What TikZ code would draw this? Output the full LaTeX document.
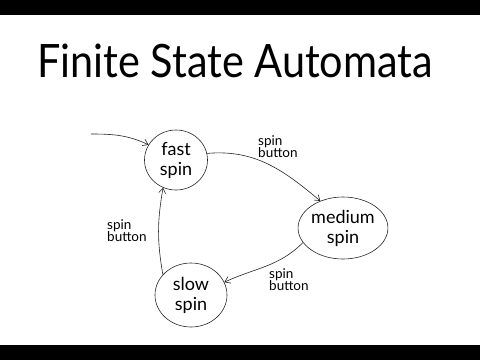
\documentclass[tikz,border=0pt]{standalone}
\usepackage{fontspec}
\setmainfont{Lato}
\usetikzlibrary{arrows.meta,shapes.geometric}
\begin{document}
\begin{tikzpicture}[x=1pt,y=-1pt,
  ink/.style={draw=black!85, line width=0.6pt},
  state/.style={ink, ellipse, inner sep=0pt, align=center,
    font=\fontsize{18}{20}\selectfont},
  trans/.style={ink, -{Straight Barb[length=5pt,width=7pt]}},
  lbl/.style={anchor=north west, align=left, inner sep=0pt,
    font=\fontsize{13.5}{12.5}\selectfont}]
  \useasboundingbox (0,0) rectangle (480,360);
  \fill[white] (0,0) rectangle (480,360);
  % black bands top and bottom
  \fill[black] (0,0) rectangle (480,15);
  \fill[black] (0,345) rectangle (480,360);

  % title, slightly narrowed
  \node[anchor=base, inner sep=0pt, font=\fontsize{46}{50}\selectfont]
    (title) at (235,77) {\scalebox{0.9}[1]{Finite State Automata}};

  % states
  \node[state, minimum width=63pt, minimum height=60pt] (fast)   at (176,160) {fast\\spin};
  \node[state, minimum width=77pt, minimum height=62pt] (medium) at (343,228) {medium\\spin};
  \node[state, minimum width=72pt, minimum height=64pt] (slow)   at (191,295) {slow\\spin};

  % entry arrow
  \coordinate (entry) at (91,134);
  \draw[trans] (entry) to[out=0, in=155] (fast.151);

  % transitions
  \draw[trans] (fast.12) to[out=5, in=140] (medium.130);
  \draw[trans] (medium.200) to[out=225, in=25] (slow.21);
  \draw[trans] (slow.144) to[out=100, in=260] (fast.245);

  % transition labels
  \node[lbl] (l1) at (258,135) {spin\\button};
  \node[lbl] (l2) at (269,268) {spin\\button};
  \node[lbl] (l3) at (107,219) {spin\\button};
\end{tikzpicture}
\end{document}
